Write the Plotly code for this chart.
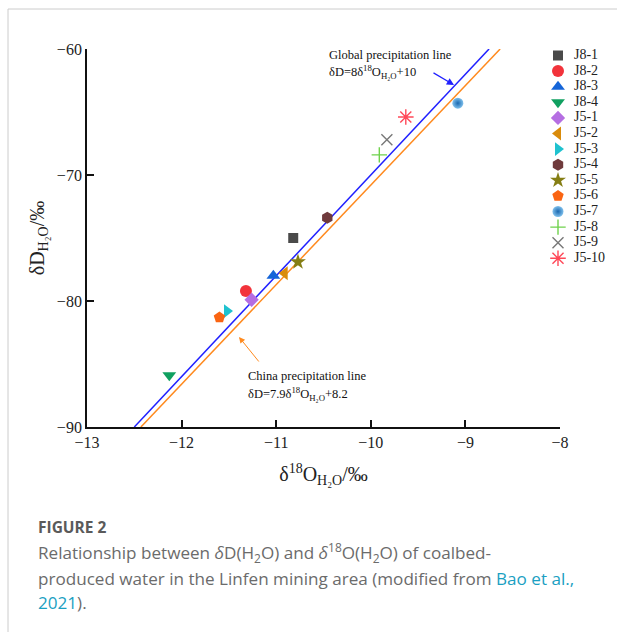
import plotly.graph_objects as go

# ---------------- data ----------------
samples = ["J8-1", "J8-2", "J8-3", "J8-4", "J5-1", "J5-2", "J5-3",
           "J5-4", "J5-5", "J5-6", "J5-7", "J5-8", "J5-9", "J5-10"]
d18O = [-10.82, -11.32, -11.03, -12.13, -11.26, -10.91, -11.52,
        -10.46, -10.77, -11.60, -9.08, -9.91, -9.83, -9.63]
dD = [-75.0, -79.2, -78.0, -85.9, -79.9, -77.8, -80.8,
      -73.4, -76.9, -81.3, -64.3, -68.4, -67.2, -65.4]

# meteoric water lines: dD = slope * d18O + intercept
line_names = ["Global precipitation line", "China precipitation line"]
line_slopes = [8.0, 7.9]
line_intercepts = [10.0, 8.2]

x_ticks = [-13, -12, -11, -10, -9, -8]
y_ticks = [-90, -80, -70, -60]
x_range = [-13, -8]
y_range = [-90, -60]

# ---------------- styles ----------------
symbols = ["square", "circle", "triangle-up", "triangle-down", "diamond",
           "triangle-left", "triangle-right", "hexagon", "star", "pentagon",
           "circle", "cross-thin", "x-thin", "asterisk-open"]
colors = ["#4a4a4a", "#f2333b", "#1565d8", "#10a060", "#b56ee2",
          "#d98b0b", "#1fc2cf", "#6f3a3c", "#857e14", "#fa6412",
          "#7fc0ec", "#6fd24c", "#777777", "#ff4858"]
sizes = [10, 12, 12, 12, 11, 12, 12, 12, 12, 12, 11, 11, 11, 13]
line_colors = ["#2020ff", "#ff8a1e"]

SERIF = "Liberation Serif"

W, H = 617, 632
ML, MT = 87, 49
PLOT_W, PLOT_H = 473, 378
MB = H - MT - PLOT_H
PAPER_W = W - ML


def px2paper_x(px):
    return (px - ML) / PAPER_W


def py2paper_y(py):
    return (MT + PLOT_H - py) / PLOT_H


fig = go.Figure()

# precipitation lines
for name, a, b, c in zip(line_names, line_slopes, line_intercepts, line_colors):
    x0 = (y_range[0] - b) / a
    x1 = (y_range[1] - b) / a
    fig.add_trace(go.Scatter(x=[x0, x1], y=[a * x0 + b, a * x1 + b], mode="lines",
                             line=dict(color=c, width=1.5), showlegend=False,
                             hoverinfo="skip"))


def marker_for(i):
    m = dict(symbol=symbols[i], color=colors[i], size=sizes[i],
             line=dict(width=0, color=colors[i]))
    if symbols[i] in ("cross-thin", "x-thin", "asterisk-open"):
        m["line"] = dict(width=1.4, color=colors[i])
    if samples[i] == "J5-7":
        m["gradient"] = dict(type="radial", color="#1a68b0")
    return m


# sample points
for i, s in enumerate(samples):
    fig.add_trace(go.Scatter(x=[d18O[i]], y=[dD[i]], mode="markers", name=s,
                             marker=marker_for(i), showlegend=False,
                             cliponaxis=False))

# custom legend on helper axes
for i, s in enumerate(samples):
    fig.add_trace(go.Scatter(x=[18], y=[i], mode="markers", xaxis="x2", yaxis="y2",
                             marker=marker_for(i), showlegend=False,
                             cliponaxis=False, hoverinfo="skip"))
fig.add_trace(go.Scatter(x=[34] * len(samples), y=list(range(len(samples))),
                         mode="text", text=samples, textposition="middle right",
                         textfont=dict(family=SERIF, size=14, color="#222"),
                         xaxis="x2", yaxis="y2", showlegend=False,
                         cliponaxis=False, hoverinfo="skip"))

row0, rowgap = 55.5, 15.6
y2_top = (MT - row0) / rowgap
y2_bot = (MT + PLOT_H - row0) / rowgap
leg_left = 540

fig.update_layout(
    template="none",
    autosize=False,
    width=W, height=H,
    margin=dict(l=ML, r=0, t=MT, b=MB, pad=0),
    paper_bgcolor="white", plot_bgcolor="white",
    xaxis=dict(domain=[0, PLOT_W / PAPER_W], range=x_range, tickvals=x_ticks,
               showgrid=False, zeroline=False, showline=True, linecolor="#111",
               linewidth=1.8, ticks="inside", ticklen=7, tickwidth=1.5,
               tickcolor="#111", mirror=False, automargin=False,
               tickfont=dict(family=SERIF, size=16, color="#222"),
               title=dict(text="δ<sup>18</sup>O<sub>H₂O</sub>/‰",
                          font=dict(family=SERIF, size=20, color="#222"),
                          standoff=17)),
    yaxis=dict(range=y_range, tickvals=y_ticks, showgrid=False, zeroline=False,
               showline=True, linecolor="#111", linewidth=1.8, ticks="inside",
               ticklen=7, tickwidth=1.5, tickcolor="#111", automargin=False,
               tickfont=dict(family=SERIF, size=16, color="#222"),
               title=dict(text="δD<sub>H₂O</sub>/‰",
                          font=dict(family=SERIF, size=20, color="#222"),
                          standoff=7)),
    xaxis2=dict(domain=[px2paper_x(leg_left), 1], range=[0, W - leg_left],
                anchor="y2", visible=False, fixedrange=True),
    yaxis2=dict(domain=[0, 1], range=[y2_bot, y2_top], anchor="x2",
                visible=False, fixedrange=True),
)

ann_font = dict(family=SERIF, size=12.5, color="#111")


def dx(px):
    return x_range[0] + (px - ML) / PLOT_W * (x_range[1] - x_range[0])


def dy(py):
    return y_range[1] - (py - MT) / PLOT_H * (y_range[1] - y_range[0])


annotations = [
    dict(x=dx(327), y=dy(55), xref="x", yref="y", text=line_names[0],
         showarrow=False, xanchor="left", yanchor="middle", font=ann_font),
    dict(x=dx(327), y=dy(72), xref="x", yref="y",
         text="δD=8δ<sup>18</sup>O<sub>H₂O</sub>+10",
         showarrow=False, xanchor="left", yanchor="middle", font=ann_font),
    dict(x=dx(454), y=dy(85), ax=dx(432), ay=dy(72), xref="x", yref="y",
         axref="x", ayref="y", text="", showarrow=True, arrowhead=2,
         arrowsize=1.2, arrowwidth=1.2, arrowcolor=line_colors[0]),
    dict(x=dx(246), y=dy(376), xref="x", yref="y", text=line_names[1],
         showarrow=False, xanchor="left", yanchor="middle", font=ann_font),
    dict(x=dx(246), y=dy(394), xref="x", yref="y",
         text="δD=7.9δ<sup>18</sup>O<sub>H₂O</sub>+8.2",
         showarrow=False, xanchor="left", yanchor="middle", font=ann_font),
    dict(x=dx(239), y=dy(337), ax=dx(260), ay=dy(363), xref="x", yref="y",
         axref="x", ayref="y", text="", showarrow=True, arrowhead=2,
         arrowsize=1.2, arrowwidth=1, arrowcolor=line_colors[1]),
]

cap_font = dict(family="Open Sans", size=17.1, color="#6b6b6b")
link = "#1aa0c2"
caption_lines = [
    ("<b>FIGURE 2</b>", 527, dict(family="Open Sans", size=15.5, color="#5a5a5a")),
    ("Relationship between <i>δ</i>D(H<sub>2</sub>O) and <i>δ</i><sup>18</sup>O(H<sub>2</sub>O) of coalbed-",
     553, cap_font),
    ("produced water in the Linfen mining area (modified from "
     f"<span style='color:{link}'>Bao et al.,</span>", 578, cap_font),
    (f"<span style='color:{link}'>2021</span>).", 602, cap_font),
]
for txt, py, f in caption_lines:
    annotations.append(dict(x=px2paper_x(36), y=py2paper_y(py), xref="paper",
                            yref="paper", text=txt, showarrow=False,
                            xanchor="left", yanchor="middle", font=f))

fig.update_layout(annotations=annotations)

# card border (top and left)
fig.add_shape(type="line", xref="paper", yref="paper",
              x0=px2paper_x(8), x1=px2paper_x(W + 5), y0=py2paper_y(9), y1=py2paper_y(9),
              line=dict(color="#cccccc", width=1))
fig.add_shape(type="line", xref="paper", yref="paper",
              x0=px2paper_x(8), x1=px2paper_x(8), y0=py2paper_y(9), y1=py2paper_y(H + 5),
              line=dict(color="#cccccc", width=1))

fig.write_html("out.html", config={"responsive": False})
